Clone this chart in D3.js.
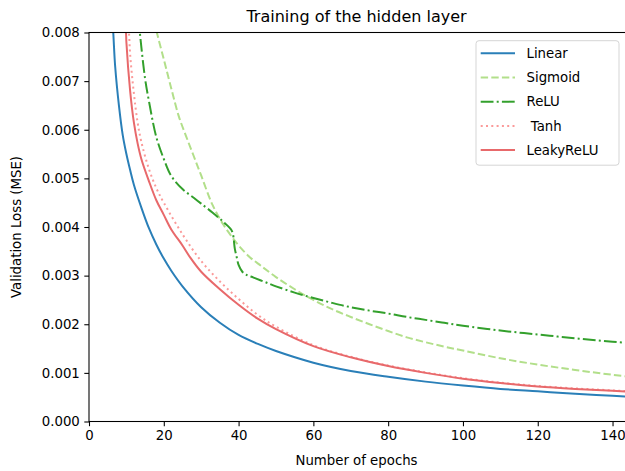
<!DOCTYPE html>
<html>
<head>
<meta charset="utf-8">
<script src="https://cdn.jsdelivr.net/npm/d3@7"></script>
<style>
  body { margin: 0; background: #fff; }
  text { font-family: "DejaVu Sans", sans-serif; fill: #000; }
</style>
</head>
<body>
<div id="chart"></div>
<script>
var w = 625,
  h = 471;
var margin = { top: 32.5, right: -1, bottom: 49.5, left: 89 },
  width = w - margin.left - margin.right,
  height = h - margin.top - margin.bottom;

// values in units of 0.001 (MSE)
var linearEpochs = [6, 6.5, 7, 8, 9, 10, 11, 12, 14, 16, 18, 20, 22, 25, 30, 35, 40, 45, 50, 60, 70, 80, 90, 100, 110, 120, 130, 140, 150];
var linearLoss = [8.6, 7.98, 7.3, 6.5, 5.9, 5.5, 5.17, 4.87, 4.4, 3.98, 3.64, 3.35, 3.1, 2.78, 2.35, 2.03, 1.78, 1.6, 1.45, 1.21, 1.04, 0.92, 0.82, 0.74, 0.67, 0.62, 0.57, 0.53, 0.49];

var sigmoidEpochs = [17.5, 18, 20, 22, 24, 26, 28, 30, 33, 36, 38, 40, 43, 46, 50, 55, 60, 65, 70, 75, 80, 85, 90, 95, 100, 110, 120, 130, 140, 150];
var sigmoidLoss = [8.25, 8.05, 7.45, 6.85, 6.28, 5.86, 5.46, 5.06, 4.46, 4.04, 3.82, 3.62, 3.38, 3.2, 2.97, 2.72, 2.5, 2.31, 2.15, 2.0, 1.86, 1.73, 1.63, 1.54, 1.46, 1.3, 1.17, 1.06, 0.96, 0.88];

var reluEpochs = [13.2, 13.6, 14, 15, 16, 18, 20, 22, 25, 28, 30, 33, 36, 38, 38.5, 39, 39.5, 40, 41, 42, 44, 47, 50, 55, 60, 65, 70, 75, 80, 85, 90, 95, 100, 110, 120, 130, 140, 150];
var reluLoss = [8.3, 8.0, 7.7, 7.05, 6.6, 5.85, 5.4, 5.05, 4.78, 4.6, 4.48, 4.3, 4.1, 3.95, 3.85, 3.55, 3.38, 3.22, 3.08, 3.02, 2.96, 2.87, 2.78, 2.65, 2.54, 2.44, 2.35, 2.28, 2.22, 2.15, 2.09, 2.03, 1.97, 1.87, 1.79, 1.71, 1.64, 1.58];

var tanhEpochs = [10.4, 10.7, 11, 12, 13, 14, 16, 18, 20, 25, 30, 35, 40, 45, 50, 60, 70, 80, 90, 100, 110, 120, 130, 140, 150];
var tanhLoss = [8.3, 8.0, 7.55, 6.75, 6.15, 5.75, 5.2, 4.8, 4.5, 3.85, 3.3, 2.88, 2.52, 2.2, 1.95, 1.57, 1.33, 1.15, 1.01, 0.89, 0.8, 0.73, 0.68, 0.64, 0.6];

var leakyEpochs = [9.6, 9.9, 10, 11, 12, 13, 14, 16, 18, 20, 22, 25, 27, 30, 35, 40, 45, 50, 60, 70, 80, 90, 100, 110, 120, 130, 140, 150];
var leakyLoss = [8.3, 8.0, 7.8, 6.8, 6.15, 5.72, 5.4, 4.95, 4.55, 4.25, 3.95, 3.62, 3.38, 3.08, 2.72, 2.4, 2.12, 1.9, 1.55, 1.32, 1.14, 1.0, 0.88, 0.79, 0.72, 0.67, 0.63, 0.59];

var names = ["Linear", "Sigmoid", "ReLU", " Tanh", "LeakyReLU"];
var colors = ["#2a7fb8", "#b2df8a", "#33a02c", "#fb9a99", "#e8696b"];
var dashes = [null, "7.4,3.2", "12.8,3.2,2,3.2", "2,3.3", null];
var xTicks = [0, 20, 40, 60, 80, 100, 120, 140];
var yTicks = [0, 0.001, 0.002, 0.003, 0.004, 0.005, 0.006, 0.007, 0.008];

var series = [
  [linearEpochs, linearLoss],
  [sigmoidEpochs, sigmoidLoss],
  [reluEpochs, reluLoss],
  [tanhEpochs, tanhLoss],
  [leakyEpochs, leakyLoss],
].map(function (s, i) {
  return {
    name: names[i],
    color: colors[i],
    dash: dashes[i],
    values: s[0].map(function (e, j) { return { x: e, y: s[1][j] / 1000 }; }),
  };
});

var svg = d3
  .select("#chart")
  .append("svg")
  .attr("width", w)
  .attr("height", h)
  .append("g")
  .attr("transform", `translate(${margin.left}, ${margin.top})`);

var x = d3.scaleLinear().domain([0, 143.6]).range([0, width]);
var y = d3.scaleLinear().domain([0, 0.008]).range([height, 0]);

svg.append("clipPath").attr("id", "clip")
  .append("rect").attr("width", width).attr("height", height);

var line = d3.line()
  .x((d) => x(d.x))
  .y((d) => y(d.y))
  .curve(d3.curveCatmullRom.alpha(0.5));

svg.append("g")
  .attr("clip-path", "url(#clip)")
  .selectAll("path")
  .data(series)
  .enter()
  .append("path")
  .attr("fill", "none")
  .attr("stroke", (d) => d.color)
  .attr("stroke-width", 2)
  .attr("stroke-dasharray", (d) => d.dash)
  .attr("d", (d) => line(d.values));

// axes
var xAxis = svg.append("g")
  .attr("transform", `translate(0, ${height})`)
  .call(d3.axisBottom(x).tickValues(xTicks).tickSize(4.7).tickPadding(4.5).tickSizeOuter(0));
var yAxis = svg.append("g")
  .call(d3.axisLeft(y).tickValues(yTicks).tickFormat(d3.format(".3f")).tickSize(4.7).tickPadding(4.5).tickSizeOuter(0));
[xAxis, yAxis].forEach(function (a) {
  a.selectAll("text").style("font-size", "13.3px").style("font-family", "DejaVu Sans");
  a.selectAll("line").attr("stroke", "#000").attr("stroke-width", 1.07);
  a.select(".domain").remove();
});

// spines
svg.append("rect")
  .attr("width", width)
  .attr("height", height)
  .attr("fill", "none")
  .attr("stroke", "#000")
  .attr("stroke-width", 1.07);

svg.append("text")
  .attr("x", width / 2 - 1)
  .attr("y", -11)
  .attr("text-anchor", "middle")
  .style("font-size", "16px")
  .text("Training of the hidden layer");

svg.append("text")
  .attr("x", width / 2 - 1)
  .attr("y", height + 43)
  .attr("text-anchor", "middle")
  .style("font-size", "13.3px")
  .text("Number of epochs");

svg.append("text")
  .attr("transform", `translate(${-68}, ${height / 2}) rotate(-90)`)
  .attr("text-anchor", "middle")
  .style("font-size", "13.3px")
  .text("Validation Loss (MSE)");

// legend
var legend = svg.append("g").attr("transform", `translate(${476 - margin.left}, ${40.7 - margin.top})`);
legend.append("rect")
  .attr("width", 143)
  .attr("height", 124.5)
  .attr("rx", 3)
  .attr("fill", "#fff")
  .attr("fill-opacity", 0.8)
  .attr("stroke", "#d5d5d5")
  .attr("stroke-width", 1);

var item = legend.selectAll(".item")
  .data(series)
  .enter()
  .append("g")
  .attr("class", "item")
  .attr("transform", (d, i) => `translate(0, ${12.6 + i * 24.2})`);
item.append("line")
  .attr("x1", 4.7)
  .attr("x2", 39)
  .attr("stroke", (d) => d.color)
  .attr("stroke-width", 2)
  .attr("stroke-dasharray", (d) => d.dash);
item.append("text")
  .attr("x", 50.5)
  .attr("dy", "0.35em")
  .style("font-size", "13.3px")
  .style("white-space", "pre")
  .text((d) => d.name);
</script>
</body>
</html>
